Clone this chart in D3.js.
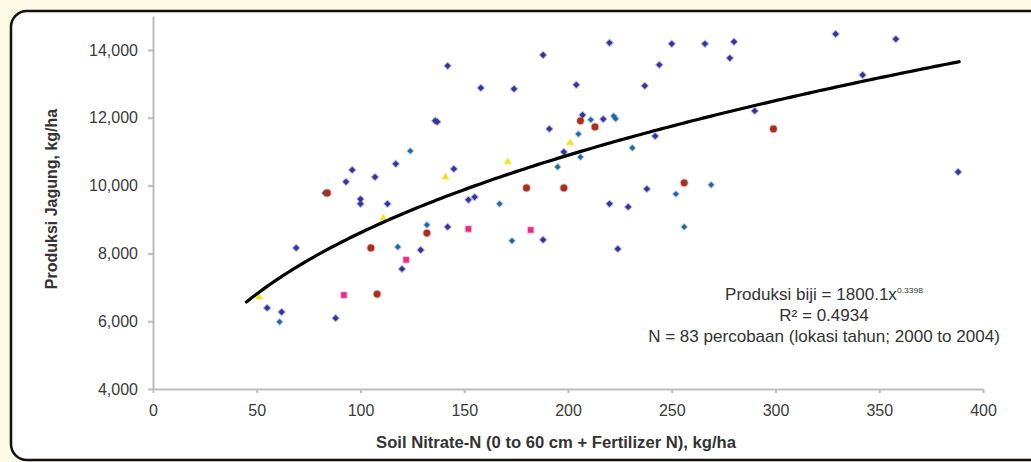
<!DOCTYPE html>
<html>
<head>
<meta charset="utf-8">
<script src="https://cdn.jsdelivr.net/npm/d3@7"></script>
<style>
  html, body { margin: 0; padding: 0; background: #fcf9e4; }
  svg { display: block; font-family: "Liberation Sans", Arial, sans-serif; }
  .axis path, .axis line { stroke: #bdbdbd; stroke-width: 2; }
  .axis text { fill: #3a3a3a; font-size: 16px; }
</style>
</head>
<body>
<div id="chart"></div>
<script>
// tick labels
const xTicks = [0, 50, 100, 150, 200, 250, 300, 350, 400];
const yTicks = [4000, 6000, 8000, 10000, 12000, 14000];

// trials, [soil nitrate-N, yield], one array per marker style
const navyPts = [
  [55, 6390], [62, 6270], [69, 8160], [88, 6090], [120, 7540], [129, 8100],
  [142, 8780], [100, 9600], [100, 9460], [113, 9460], [83, 9780], [93, 10110],
  [96, 10460], [107, 10250], [117, 10640], [137, 11880], [136, 11910], [142, 13530],
  [145, 10490], [158, 12880], [152, 9580], [155, 9660], [174, 12850], [188, 13850],
  [220, 14210], [250, 14180], [204, 12970], [237, 12940], [244, 13560], [191, 11670],
  [207, 12080], [217, 11960], [198, 10990], [242, 11460], [238, 9900], [220, 9460],
  [229, 9370], [188, 8400], [224, 8130], [266, 14180], [280, 14240], [278, 13760],
  [329, 14470], [358, 14320], [342, 13260], [290, 12200], [388, 10400]
];
const tealPts = [
  [61, 5980], [118, 8190], [132, 8840], [124, 11020], [211, 11940], [222, 12050],
  [223, 11970], [205, 11520], [206, 10840], [195, 10550], [231, 11110], [167, 9460],
  [252, 9750], [256, 8780], [173, 8370], [269, 10020]
];
const redPts = [
  [108, 6800], [105, 8160], [132, 8600], [84, 9780], [206, 11910], [213, 11730],
  [180, 9930], [198, 9930], [256, 10080], [299, 11670]
];
const pinkPts = [[92, 6770], [122, 7810], [152, 8720], [182, 8690]];
const yellowPts = [[51, 6710], [111, 9040], [141, 10250], [201, 11260], [171, 10700]];

// power trend line printed on the chart
const fitA = 1800.1, fitB = 0.3398;
const fitFrom = 45, fitTo = 388.5;

const notes = ["R\u00b2 = 0.4934", "N = 83 percobaan (lokasi tahun; 2000 to 2004)"];

const W = 1031, H = 462;

const svg = d3.select("#chart").append("svg")
  .attr("width", W)
  .attr("height", H);

svg.append("rect")
  .attr("width", W).attr("height", H)
  .attr("fill", "#fcf9e4");

svg.append("rect")
  .attr("x", 11).attr("y", 11)
  .attr("width", W + 20).attr("height", 449)
  .attr("rx", 16)
  .attr("fill", "#fff")
  .attr("stroke", "#111")
  .attr("stroke-width", 2.5);

const x = d3.scaleLinear().domain([0, 400]).range([153, 983]);
const y = d3.scaleLinear().domain([4000, 15000]).range([389, 16]);

svg.append("g")
  .attr("class", "axis")
  .attr("transform", "translate(153,0)")
  .call(d3.axisLeft(y).tickValues(yTicks).tickFormat(d3.format(","))
    .tickSize(5).tickSizeOuter(0).tickPadding(10));

svg.append("g")
  .attr("class", "axis")
  .attr("transform", "translate(0,389)")
  .call(d3.axisBottom(x).tickValues(xTicks).tickFormat(d3.format("d"))
    .tickSize(4).tickSizeOuter(0).tickPadding(12));

// axis titles
svg.append("text")
  .attr("transform", "translate(57,199) rotate(-90)")
  .attr("text-anchor", "middle")
  .attr("font-size", 16).attr("font-weight", "bold").attr("fill", "#333")
  .text("Produksi Jagung, kg/ha");

svg.append("text")
  .attr("transform", "translate(556,448) scale(1.04,1)")
  .attr("text-anchor", "middle")
  .attr("font-size", 16).attr("font-weight", "bold").attr("fill", "#333")
  .text("Soil Nitrate-N (0 to 60 cm + Fertilizer N), kg/ha");

// markers
const diamond = d3.symbolSquare;
function addSeries(pts, type, size, color, rot) {
  svg.append("g").selectAll("path")
    .data(pts)
    .enter().append("path")
    .attr("transform", d => `translate(${x(d[0])},${y(d[1])}) rotate(${rot})`)
    .attr("d", d3.symbol().type(type).size(size))
    .attr("fill", color)
    .attr("stroke", color)
    .attr("stroke-opacity", 0.3)
    .attr("stroke-width", 2)
    .attr("stroke-linejoin", "round");
}
addSeries(navyPts, diamond, 20, "#34349a", 45);
addSeries(tealPts, diamond, 16, "#1f66a6", 45);
addSeries(redPts, d3.symbolCircle, 36, "#a8301f", 0);
addSeries(pinkPts, d3.symbolSquare, 30, "#ec2a84", 0);
addSeries(yellowPts, d3.symbolTriangle, 20, "#f3e11c", 0);

// trend line
const fitXs = d3.range(fitFrom, fitTo, 2).concat([fitTo]);
svg.append("path")
  .datum(fitXs)
  .attr("fill", "none")
  .attr("stroke", "#000")
  .attr("stroke-width", 3.2)
  .attr("stroke-linecap", "round")
  .attr("d", d3.line().x(d => x(d)).y(d => y(fitA * Math.pow(d, fitB))));

// equation block
const block = svg.append("g")
  .attr("transform", "translate(824,0) scale(1.065,1)");

const eq = block.append("text")
  .attr("x", 0).attr("y", 300)
  .attr("text-anchor", "middle")
  .attr("font-size", 16).attr("fill", "#333");
eq.append("tspan").text("Produksi biji = " + fitA + "x");
eq.append("tspan").attr("font-size", 8).attr("dy", -7).text(fitB);

block.selectAll(".note")
  .data(notes)
  .enter().append("text")
  .attr("class", "note")
  .attr("x", 0)
  .attr("y", (d, i) => 321 + i * 21)
  .attr("text-anchor", "middle")
  .attr("font-size", 16).attr("fill", "#333")
  .text(d => d);
</script>
</body>
</html>
